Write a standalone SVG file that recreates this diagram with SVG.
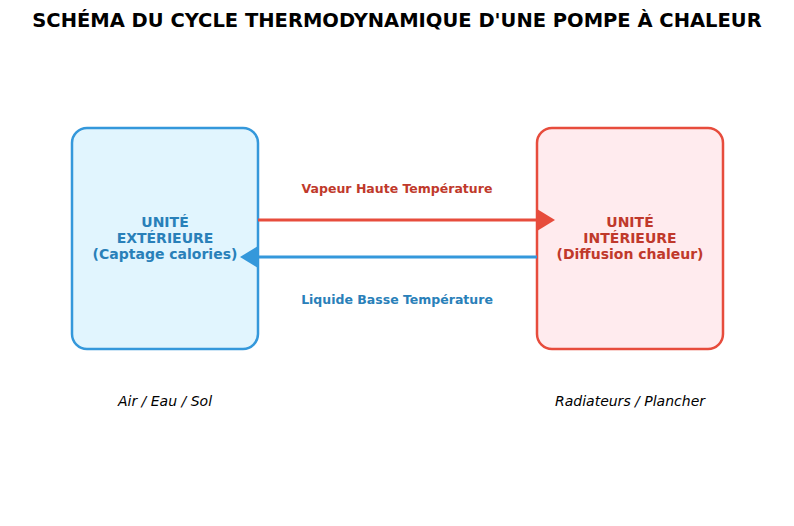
<svg xmlns="http://www.w3.org/2000/svg" width="794" height="526" viewBox="0 0 794 526">
<style>
text{font-family:"DejaVu Sans","Liberation Sans",sans-serif;text-anchor:middle}
.title{font-size:19.5px;font-weight:bold;fill:#000}
.nl{font-size:14px;font-weight:bold}
.el{font-size:12.5px;font-weight:bold}
.sub{font-size:14px;font-style:italic;fill:#000}
</style>
<defs>
<marker id="ar" viewBox="0 0 18 22" refX="0" refY="11" markerWidth="18" markerHeight="22" markerUnits="userSpaceOnUse" orient="auto"><path d="M0,0 L18,11 L0,22 Z" fill="#e74c3c"/></marker>
<marker id="ab" viewBox="0 0 18 22" refX="0" refY="11" markerWidth="18" markerHeight="22" markerUnits="userSpaceOnUse" orient="auto"><path d="M0,0 L18,11 L0,22 Z" fill="#3498db"/></marker>
</defs>
<rect width="794" height="526" fill="#fff"/>
<text class="title" x="397" y="27">SCHÉMA DU CYCLE THERMODYNAMIQUE D'UNE POMPE À CHALEUR</text>
<g id="ext">
<rect x="72" y="128" width="186" height="221" rx="15" fill="#e1f5fe" stroke="#3498db" stroke-width="2.5"/>
<text class="nl" fill="#2980b9" x="165" y="227">UNITÉ</text>
<text class="nl" fill="#2980b9" x="165" y="243">EXTÉRIEURE</text>
<text class="nl" fill="#2980b9" x="165" y="259">(Captage calories)</text>
<text class="sub" x="165" y="406">Air / Eau / Sol</text>
</g>
<g id="int">
<rect x="537" y="128" width="186" height="221" rx="15" fill="#ffebee" stroke="#e74c3c" stroke-width="2.5"/>
<text class="nl" fill="#c0392b" x="630" y="227">UNITÉ</text>
<text class="nl" fill="#c0392b" x="630" y="243">INTÉRIEURE</text>
<text class="nl" fill="#c0392b" x="630" y="259">(Diffusion chaleur)</text>
<text class="sub" x="630" y="406">Radiateurs / Plancher</text>
</g>
<g id="connectors">
<line x1="258" y1="220" x2="537" y2="220" stroke="#e74c3c" stroke-width="3" marker-end="url(#ar)"/>
<line x1="537" y1="257" x2="258" y2="257" stroke="#3498db" stroke-width="3" marker-end="url(#ab)"/>
<text class="el" x="397" y="193" fill="#c0392b">Vapeur Haute Température</text>
<text class="el" x="397" y="304" fill="#2980b9">Liquide Basse Température</text>
</g>
</svg>
